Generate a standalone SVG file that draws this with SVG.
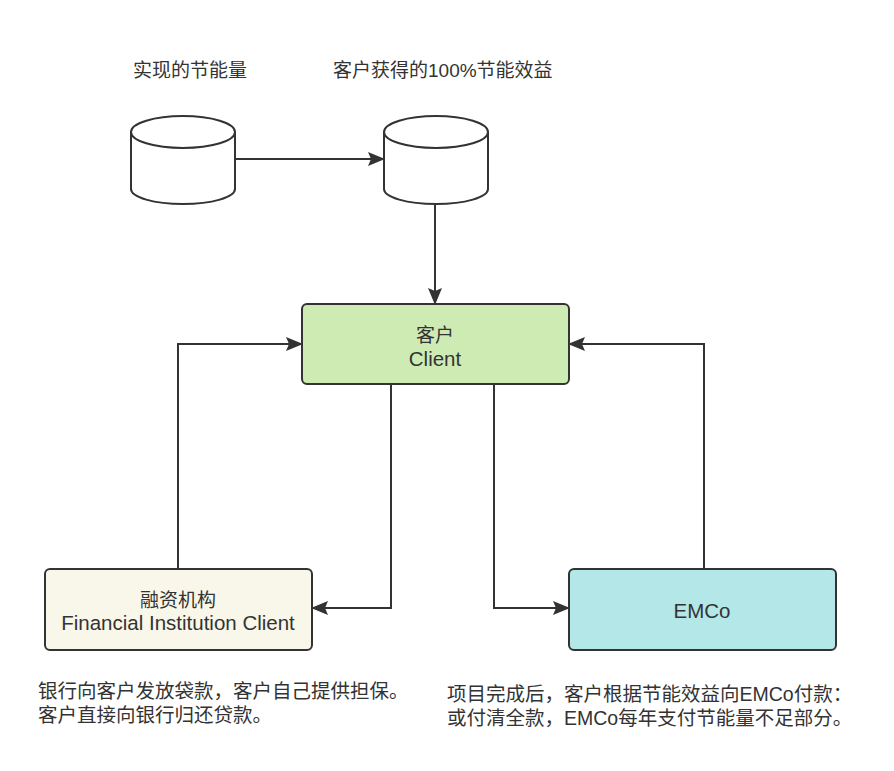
<svg xmlns="http://www.w3.org/2000/svg" width="894" height="771" viewBox="0 0 894 771">
<defs>
<marker id="arr" viewBox="0 0 17 14" refX="16" refY="7" markerWidth="17" markerHeight="14" markerUnits="userSpaceOnUse" orient="auto">
<path d="M0,0 L17,7 L0,14 L3,7 Z" fill="#333"/>
</marker>
<style>
.ln{fill:none;stroke:#333;stroke-width:2}
.cy{fill:#fff;stroke:#333;stroke-width:2}
.box{stroke:#333;stroke-width:2}
.t{font-family:"Liberation Sans","Noto Sans CJK SC",sans-serif;font-size:19px;fill:#333}
.l{font-size:20.5px}
.n{font-size:19.5px}
.c{text-anchor:middle}
</style>
</defs>
<rect width="894" height="771" fill="#fff"/>
<g id="labels">
<text class="t" x="133" y="77">实现的节能量</text>
<text class="t" x="333" y="77">客户获得的100%节能效益</text>
</g>
<g id="cyl1">
<path class="cy" d="M131,132 A52,16 0 0 1 235,132 L235,189 A52,15 0 0 1 131,189 Z"/>
<path class="ln" d="M131,132 A52,16 0 0 0 235,132"/>
</g>
<g id="cyl2">
<path class="cy" d="M384,132 A52,16 0 0 1 488,132 L488,189 A52,15 0 0 1 384,189 Z"/>
<path class="ln" d="M384,132 A52,16 0 0 0 488,132"/>
</g>
<g id="client">
<rect class="box" x="302" y="304" width="267" height="80" rx="5" fill="#cdebb3"/>
<text class="t c" x="435" y="342">客户</text>
<text class="t c l" x="435" y="366">Client</text>
</g>
<g id="finance">
<rect class="box" x="45" y="569" width="267" height="81" rx="5" fill="#f9f7e9"/>
<text class="t c" x="178" y="607">融资机构</text>
<text class="t c l" x="178" y="630">Financial Institution Client</text>
</g>
<g id="emco">
<rect class="box" x="569" y="569" width="267" height="81" rx="5" fill="#b3e7e8"/>
<text class="t c l" x="702" y="618">EMCo</text>
</g>
<g id="connectors">
<path class="ln" d="M236,159 L384,159" marker-end="url(#arr)"/>
<path class="ln" d="M435,205 L435,304" marker-end="url(#arr)"/>
<path class="ln" d="M178,569 L178,344 L302,344" marker-end="url(#arr)"/>
<path class="ln" d="M704,569 L704,344 L569,344" marker-end="url(#arr)"/>
<path class="ln" d="M391,384 L391,608 L312,608" marker-end="url(#arr)"/>
<path class="ln" d="M494,384 L494,608 L569,608" marker-end="url(#arr)"/>
</g>
<g id="notes">
<text class="t n" x="38" y="698">银行向客户发放袋款，客户自己提供担保。</text>
<text class="t n" x="38" y="722">客户直接向银行归还贷款。</text>
<text class="t n" x="447" y="701">项目完成后，客户根据节能效益向EMCo付款：</text>
<text class="t n" x="447" y="725">或付清全款，EMCo每年支付节能量不足部分。</text>
</g>
</svg>
